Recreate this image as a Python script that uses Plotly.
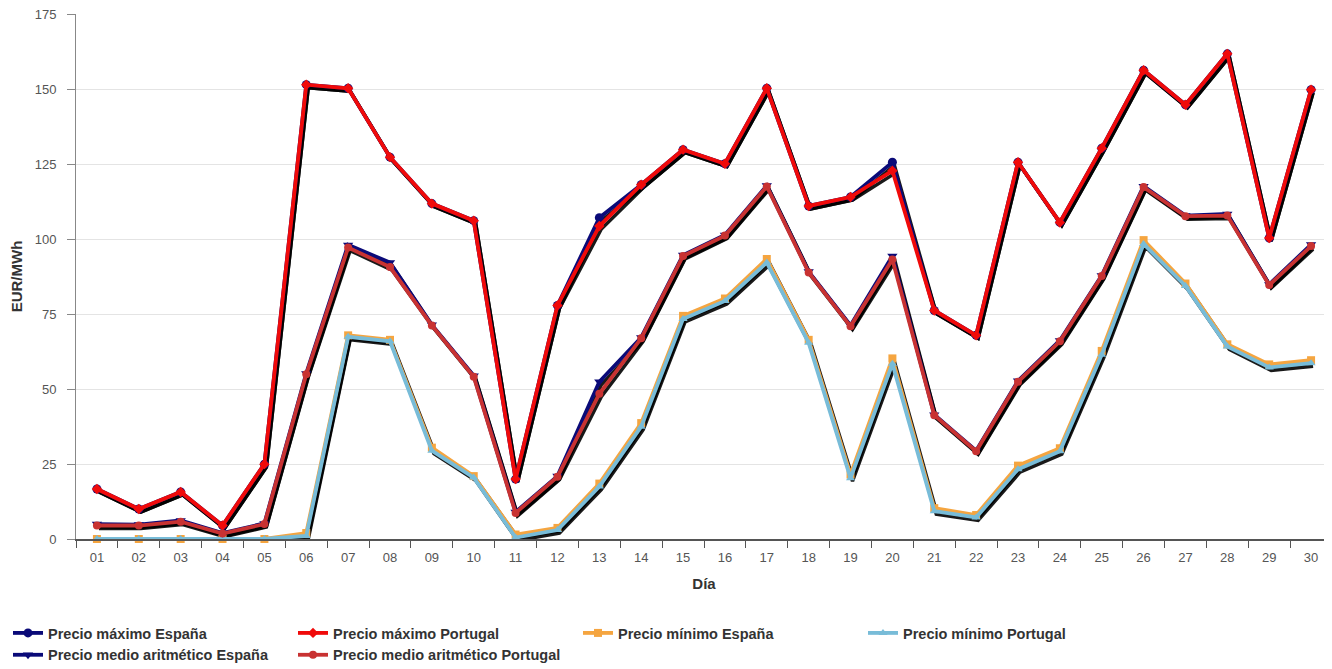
import plotly.graph_objects as go

days = ["01","02","03","04","05","06","07","08","09","10","11","12","13","14","15",
        "16","17","18","19","20","21","22","23","24","25","26","27","28","29","30"]

max_es = [16.7, 10, 15.7, 4.5, 25, 151.7, 150.5, 127.5, 112, 106.3, 20, 78, 107.3, 118.3, 130,
          125.3, 150.5, 111.2, 114.2, 125.8, 76.3, 68, 125.8, 105.7, 130.5, 156.5, 145, 162, 100.5, 150]
max_pt = [16.7, 10, 15.7, 4.5, 25, 151.7, 150.5, 127.5, 112, 106.3, 20, 78, 104.5, 118.3, 130,
          125.3, 150.5, 111.2, 114.2, 123, 76.3, 68, 125.8, 105.7, 130.5, 156.5, 145, 162, 100.5, 150]
med_es = [5, 4.8, 6.2, 2, 5.2, 55.3, 98.2, 92.3, 71.5, 54.5, 9, 21, 52.5, 67.3, 94.8,
          101.5, 118, 89.3, 71.3, 94.5, 41.5, 29.5, 52.8, 66.3, 88, 117.8, 108, 108.5, 85, 98.3]
med_pt = [4.5, 4.5, 5.8, 1.8, 5, 55, 97.3, 90.8, 71.3, 54.2, 8.7, 20.8, 48.5, 67, 94.5,
          101.3, 117.7, 89, 71, 93.3, 41.3, 29.3, 52.5, 66, 87.8, 117.5, 107.8, 108, 84.8, 97.8]
min_es = [0, 0, 0, 0, 0, 2, 68, 66.5, 30.5, 21, 1.5, 3.7, 18.5, 38.7, 74.5,
          80.3, 93.5, 66.5, 21.5, 60.3, 10.3, 8, 24.5, 30.3, 62.8, 99.8, 85.3, 65, 58.3, 59.7]
min_pt = [0, 0, 0, 0, 0, 1, 67.5, 66, 29.5, 20.5, 0.5, 3, 17.5, 37.5, 73.5,
          79.5, 92.3, 65.5, 20.3, 58.5, 9.3, 7.2, 23.3, 29.3, 61.5, 98.5, 84.5, 64.3, 57.3, 58.7]

y_ticks = [0, 25, 50, 75, 100, 125, 150, 175]

# page has an 8px body margin; size the figure to fit the 1332x669 window
W, H = 1324, 661
ML, MR, MT, MB = 68, 0, 6, 130
x_pos = list(range(1, len(days) + 1))
x_range = [0.5, len(days) + 0.5]
y_range = [0, 175.3]

# shadow offset in pixels -> data units
px_x = (W - ML - MR) / (x_range[1] - x_range[0])
px_y = (H - MT - MB) / (y_range[1] - y_range[0])
dx, dy = 2.0, 3.0
sx = dx / px_x
sy = dy / px_y

series = [
    ("Precio máximo España", max_es, "#0a0a78", "circle", 9),
    ("Precio máximo Portugal", max_pt, "#f00a0a", "diamond", 8),
    ("Precio mínimo España", min_es, "#f5a540", "square", 8),
    ("Precio mínimo Portugal", min_pt, "#78bcd8", "triangle-up", 8),
    ("Precio medio aritmético España", med_es, "#0a0a78", "triangle-down", 9),
    ("Precio medio aritmético Portugal", med_pt, "#c83232", "circle", 8),
]

fig = go.Figure()

# shadows on the (hidden, shifted) main axes -> drawn below
for name, vals, color, sym, size in series:
    fig.add_trace(go.Scatter(
        x=x_pos, y=vals, xaxis="x", yaxis="y", mode="lines",
        line=dict(color="rgba(0,0,0,0.9)", width=3.5),
        showlegend=False, hoverinfo="skip"))

# colored lines on the visible overlay axes
for name, vals, color, sym, size in series:
    fig.add_trace(go.Scatter(
        x=x_pos, y=vals, xaxis="x2", yaxis="y2", mode="lines+markers", name=name,
        line=dict(color=color, width=3.8),
        marker=dict(symbol=sym, size=size, color=color),
        cliponaxis=False))

font = "Liberation Sans, Arial, sans-serif"

fig.update_layout(
    width=W, height=H,
    margin=dict(l=ML, r=MR, t=MT, b=MB),
    paper_bgcolor="white", plot_bgcolor="white",
    font=dict(family=font, size=13, color="#555555"),
    xaxis=dict(range=[x_range[0] - sx, x_range[1] - sx], visible=False, showgrid=False, zeroline=False),
    yaxis=dict(range=[y_range[0] + sy, y_range[1] + sy], visible=False, showgrid=False, zeroline=False),
    xaxis2=dict(
        overlaying="x", anchor="y2", side="bottom",
        range=x_range, tickmode="array", tickvals=x_pos, ticktext=days,
        ticks="", showgrid=False, zeroline=False,
        showline=True, linecolor="#555555", linewidth=1.5,
        tickfont=dict(size=13, color="#555555"),
        ticklabelstandoff=6,
        minor=dict(tick0=0.5, dtick=1, ticks="outside", ticklen=7, tickcolor="#555555", tickwidth=1),
        title=dict(text="Día", font=dict(size=15, color="#333333", weight="bold"), standoff=14),
    ),
    yaxis2=dict(
        overlaying="y", anchor="x2", side="left",
        range=y_range, tickmode="array", tickvals=y_ticks,
        showgrid=True, gridcolor="#e4e4e4", gridwidth=1, zeroline=False,
        showline=True, linecolor="#888888", linewidth=1,
        ticks="outside", ticklen=8, tickcolor="#888888",
        tickfont=dict(size=13, color="#555555"),
        ticklabelstandoff=8, ticklabeloverflow="allow",
        title=dict(text="EUR/MWh", font=dict(size=15, color="#333333", weight="bold"), standoff=11),
    ),
    legend=dict(
        orientation="h", xref="container", yref="container",
        x=0, y=1 - 609 / H, xanchor="left", yanchor="top",
        entrywidth=240, entrywidthmode="pixels",
        font=dict(size=14.5, color="#333333", weight="bold"),
        itemwidth=30, bgcolor="rgba(0,0,0,0)",
    ),
    showlegend=True,
)

fig.write_html("out.html")
